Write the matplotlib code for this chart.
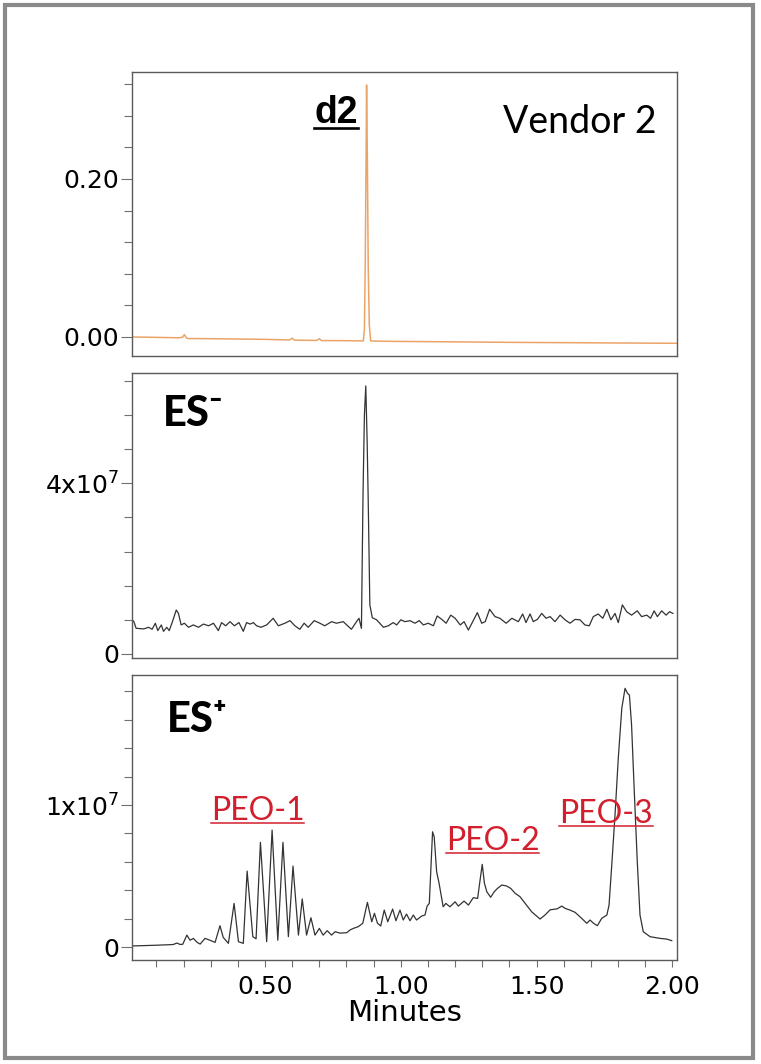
import numpy as np
import matplotlib
matplotlib.use("Agg")
import matplotlib.pyplot as plt
from matplotlib.ticker import MultipleLocator
from matplotlib.lines import Line2D
from matplotlib.patches import Rectangle

# UV trace (d2), absorbance
d2_time = [0.010, 0.100, 0.180, 0.196, 0.203, 0.210, 0.216, 0.300, 0.400, 0.500,
           0.590, 0.600, 0.608, 0.690, 0.700, 0.708, 0.760, 0.820, 0.862, 0.866,
           0.869, 0.872, 0.874, 0.877, 0.880, 0.884, 0.889, 0.950, 1.200, 1.400,
           1.600, 1.800, 2.016]
d2_abs = [0.0000, -0.0005, -0.0010, -0.0005, 0.0030, -0.0010, -0.0020, -0.0022, -0.0026, -0.0030,
          -0.0038, -0.0015, -0.0040, -0.0044, -0.0022, -0.0046, -0.0046, -0.0048, -0.0050, 0.0100,
          0.0900, 0.2200, 0.3190, 0.2200, 0.0900, 0.0150, -0.0050, -0.0055, -0.0062, -0.0068,
          -0.0072, -0.0076, -0.0080]

# ES- trace, counts in units of 1e7
esneg_time = [0.009, 0.017, 0.025, 0.053, 0.071, 0.084, 0.096, 0.105, 0.118, 0.126,
              0.138, 0.147, 0.159, 0.173, 0.181, 0.191, 0.203, 0.218, 0.236, 0.255,
              0.273, 0.292, 0.310, 0.328, 0.340, 0.355, 0.371, 0.387, 0.404, 0.420,
              0.432, 0.445, 0.457, 0.469, 0.485, 0.506, 0.530, 0.549, 0.573, 0.592,
              0.610, 0.628, 0.644, 0.659, 0.681, 0.702, 0.720, 0.745, 0.763, 0.788,
              0.818, 0.837, 0.846, 0.855, 0.861, 0.866, 0.871, 0.876, 0.880, 0.886,
              0.895, 0.911, 0.936, 0.954, 0.972, 0.985, 1.000, 1.015, 1.034, 1.052,
              1.068, 1.083, 1.101, 1.120, 1.134, 1.151, 1.167, 1.184, 1.200, 1.219,
              1.233, 1.249, 1.265, 1.282, 1.298, 1.311, 1.327, 1.347, 1.365, 1.388,
              1.409, 1.433, 1.449, 1.461, 1.476, 1.488, 1.503, 1.519, 1.535, 1.550,
              1.568, 1.587, 1.605, 1.623, 1.642, 1.660, 1.678, 1.694, 1.709, 1.727,
              1.744, 1.759, 1.774, 1.789, 1.801, 1.816, 1.832, 1.850, 1.871, 1.887,
              1.906, 1.920, 1.933, 1.945, 1.961, 1.977, 1.990, 2.002]
esneg_counts = [0.810, 0.757, 0.602, 0.586, 0.625, 0.578, 0.719, 0.547, 0.680, 0.530,
                0.625, 0.547, 0.757, 1.030, 0.950, 0.680, 0.720, 0.625, 0.680, 0.625,
                0.700, 0.660, 0.720, 0.547, 0.735, 0.660, 0.757, 0.660, 0.735, 0.530,
                0.735, 0.700, 0.735, 0.660, 0.625, 0.680, 0.836, 0.660, 0.720, 0.780,
                0.660, 0.578, 0.720, 0.625, 0.780, 0.720, 0.660, 0.757, 0.720, 0.757,
                0.578, 0.757, 0.836, 0.600, 3.800, 5.600, 6.280, 5.000, 3.600, 1.150,
                0.850, 0.800, 0.625, 0.660, 0.735, 0.680, 0.800, 0.757, 0.780, 0.720,
                0.780, 0.680, 0.720, 0.660, 0.890, 0.810, 0.720, 0.910, 0.836, 0.680,
                0.757, 0.560, 0.757, 0.968, 0.720, 0.757, 1.047, 0.875, 0.836, 0.720,
                0.836, 0.757, 0.937, 0.735, 0.937, 0.757, 0.810, 0.950, 0.836, 0.875,
                0.757, 0.910, 0.800, 0.720, 0.810, 0.800, 0.680, 0.660, 0.875, 0.937,
                0.836, 1.047, 0.800, 0.950, 0.735, 1.150, 0.990, 0.910, 1.010, 0.875,
                0.910, 0.836, 1.010, 0.875, 1.010, 0.910, 0.990, 0.950]

# ES+ trace, counts in units of 1e7
espos_time = [0.010, 0.050, 0.100, 0.140, 0.162, 0.175, 0.188, 0.197, 0.212, 0.224,
              0.236, 0.250, 0.261, 0.279, 0.297, 0.316, 0.334, 0.346, 0.365, 0.386,
              0.402, 0.420, 0.434, 0.455, 0.467, 0.483, 0.506, 0.526, 0.547, 0.566,
              0.586, 0.603, 0.623, 0.637, 0.653, 0.669, 0.684, 0.700, 0.714, 0.729,
              0.745, 0.758, 0.776, 0.801, 0.813, 0.825, 0.843, 0.860, 0.877, 0.893,
              0.903, 0.914, 0.926, 0.939, 0.952, 0.970, 0.982, 0.997, 1.009, 1.021,
              1.034, 1.046, 1.058, 1.077, 1.089, 1.097, 1.105, 1.117, 1.123, 1.132,
              1.141, 1.156, 1.166, 1.181, 1.200, 1.212, 1.233, 1.249, 1.267, 1.283,
              1.292, 1.300, 1.308, 1.317, 1.331, 1.344, 1.356, 1.372, 1.390, 1.405,
              1.421, 1.439, 1.458, 1.482, 1.513, 1.531, 1.550, 1.575, 1.593, 1.605,
              1.623, 1.642, 1.666, 1.685, 1.697, 1.710, 1.724, 1.740, 1.759, 1.767,
              1.777, 1.789, 1.801, 1.814, 1.826, 1.835, 1.842, 1.850, 1.860, 1.871,
              1.881, 1.893, 1.918, 1.955, 1.980, 1.998]
espos_counts = [0.010, 0.012, 0.015, 0.018, 0.020, 0.030, 0.020, 0.022, 0.086, 0.050,
                0.063, 0.035, 0.023, 0.063, 0.050, 0.035, 0.152, 0.070, 0.028, 0.309,
                0.040, 0.028, 0.536, 0.075, 0.060, 0.738, 0.040, 0.824, 0.050, 0.738,
                0.075, 0.571, 0.086, 0.340, 0.086, 0.208, 0.086, 0.133, 0.086, 0.117,
                0.086, 0.110, 0.100, 0.103, 0.122, 0.133, 0.145, 0.169, 0.316, 0.180,
                0.239, 0.170, 0.150, 0.262, 0.180, 0.269, 0.187, 0.262, 0.192, 0.234,
                0.187, 0.227, 0.192, 0.220, 0.227, 0.290, 0.309, 0.812, 0.777, 0.531,
                0.450, 0.285, 0.309, 0.285, 0.320, 0.290, 0.325, 0.297, 0.349, 0.344,
                0.473, 0.583, 0.450, 0.390, 0.352, 0.390, 0.414, 0.438, 0.431, 0.414,
                0.380, 0.356, 0.309, 0.250, 0.199, 0.227, 0.264, 0.270, 0.290, 0.274,
                0.262, 0.246, 0.204, 0.169, 0.192, 0.169, 0.152, 0.204, 0.227, 0.297,
                0.578, 0.930, 1.328, 1.680, 1.820, 1.785, 1.773, 1.562, 1.093, 0.602,
                0.227, 0.110, 0.075, 0.063, 0.058, 0.047]

peo_labels = ["PEO-1", "PEO-2", "PEO-3"]
peo_x = [0.472, 1.338, 1.755]
peo_y = [0.895, 0.684, 0.873]

x_ticks = [0.5, 1.0, 1.5, 2.0]
x_labels = ["0.50", "1.00", "1.50", "2.00"]

fig = plt.figure(figsize=(7.61, 10.64), dpi=100)
fig.patch.set_facecolor("white")

left, width = 0.1731, 0.7162
ax1 = fig.add_axes([left, 0.6657, width, 0.2669])
ax2 = fig.add_axes([left, 0.3819, width, 0.2673])
ax3 = fig.add_axes([left, 0.0977, width, 0.2679])

spine_c = "#5a5a5a"
tick_c = "#707070"
for ax in (ax1, ax2, ax3):
    ax.set_xlim(0.009, 2.0164)
    for s in ax.spines.values():
        s.set_color(spine_c)
        s.set_linewidth(1.0)
    ax.tick_params(axis="y", which="major", length=8, width=0.8, color=tick_c,
                   pad=1, labelsize=18)
    ax.tick_params(axis="y", which="minor", length=5.5, width=0.8, color=tick_c)

ax1.plot(d2_time, d2_abs, color="#eba467", lw=1.1)
ax1.set_ylim(-0.0237, 0.3358)
ax1.set_yticks([0.0, 0.2], labels=["0.00", "0.20"])
ax1.yaxis.set_minor_locator(MultipleLocator(0.04))

ax2.plot(esneg_time, np.array(esneg_counts) * 1e7, color="#333333", lw=0.9)
ax2.set_ylim(-0.0867e7, 6.577e7)
ax2.set_yticks([0, 4e7], labels=["0", "4x10$^7$"])
ax2.yaxis.set_minor_locator(MultipleLocator(0.8e7))

ax3.plot(espos_time, np.array(espos_counts) * 1e7, color="#333333", lw=0.9)
ax3.set_ylim(-0.0892e7, 1.9136e7)
ax3.set_yticks([0, 1e7], labels=["0", "1x10$^7$"])
ax3.yaxis.set_minor_locator(MultipleLocator(0.2e7))

for ax in (ax1, ax2):
    ax.set_xticks([])
    ax.tick_params(axis="x", which="both", bottom=False, labelbottom=False)

ax3.set_xticks(x_ticks, labels=x_labels)
ax3.xaxis.set_minor_locator(MultipleLocator(0.1))
ax3.tick_params(axis="x", which="both", length=5, width=0.8, color=tick_c,
                pad=6, labelsize=18)
ax3.set_xlabel("Minutes", fontsize=21, labelpad=0)

# panel labels
d2_txt = ax1.text(0.415, 0.819, "d2", transform=ax1.transAxes, ha="right",
                  va="baseline", fontsize=27, fontweight="bold",
                  family=["Liberation Sans", "DejaVu Sans"])
ax1.text(0.963, 0.785, "Vendor 2", transform=ax1.transAxes, ha="right",
         va="baseline", fontsize=27, family=["Lato", "DejaVu Sans"])
ax2.text(0.057, 0.815, "ES\u207b", transform=ax2.transAxes, ha="left",
         va="baseline", fontsize=30, fontweight="black",
         family=["Lato", "DejaVu Sans"])
ax3.text(0.064, 0.80, "ES\u207a", transform=ax3.transAxes, ha="left",
         va="baseline", fontsize=30, fontweight="black",
         family=["Lato", "DejaVu Sans"])

red = "#d21f2e"
peo_txts = []
for lab, x, y in zip(peo_labels, peo_x, peo_y):
    t = ax3.text(x, y * 1e7, lab, ha="center", va="baseline", fontsize=23,
                 color=red, family=["Lato", "DejaVu Sans"])
    peo_txts.append(t)

# outer frame
fig.add_artist(Rectangle((0.0062, 0.0056), 0.9833, 0.9897, transform=fig.transFigure,
                         fill=False, edgecolor="#8a8a8a", lw=3))


def underline(txt, offset, lw, color):
    fig.canvas.draw()
    r = fig.canvas.get_renderer()
    bb = txt.get_window_extent(renderer=r)
    _, ybase = txt.get_transform().transform(txt.get_position())
    inv = fig.transFigure.inverted()
    x0, y0 = inv.transform((bb.x0, ybase - offset))
    x1, _ = inv.transform((bb.x1, ybase - offset))
    fig.add_artist(Line2D([x0, x1], [y0, y0], color=color, lw=lw,
                          transform=fig.transFigure))


underline(d2_txt, 5, 1.9, "black")
for t in peo_txts:
    underline(t, 3, 1.1, red)

fig.savefig("out.png", dpi=100)
